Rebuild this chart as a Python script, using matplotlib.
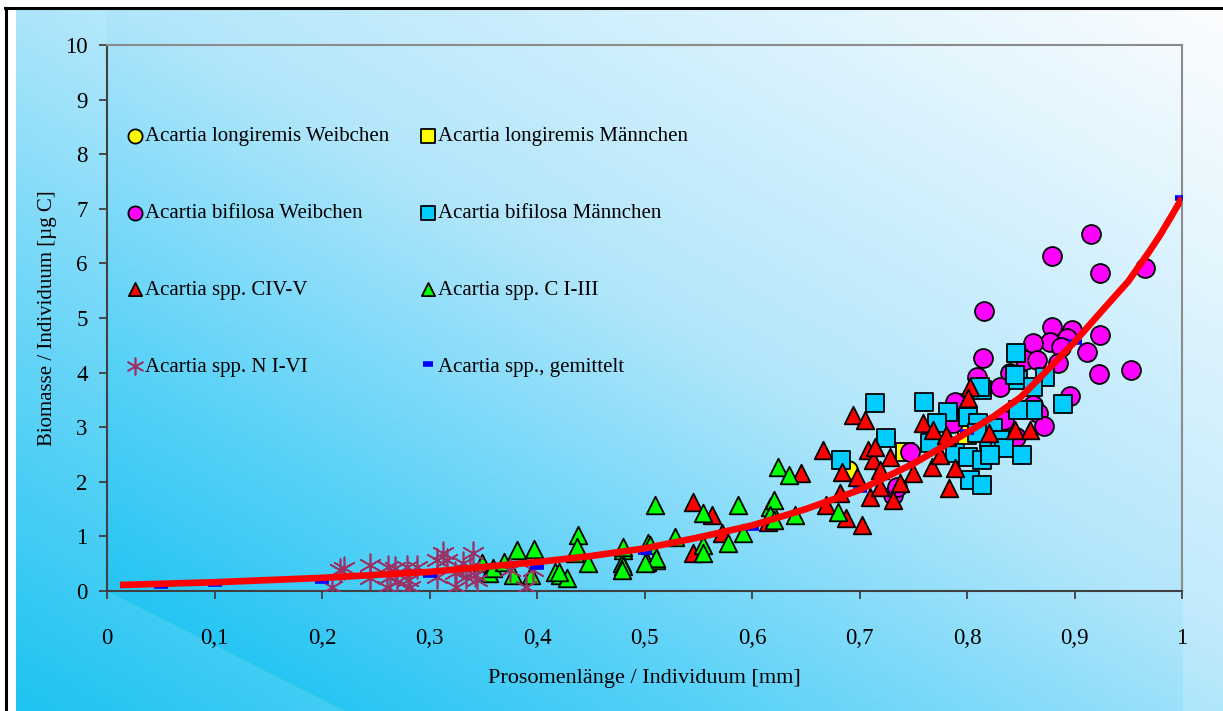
import numpy as np
import matplotlib
matplotlib.use('Agg')
from matplotlib import pyplot as plt
from matplotlib.colors import LinearSegmentedColormap
from matplotlib.patches import Polygon
from matplotlib.lines import Line2D

# data
lw_x = [0.689]
lw_y = [2.22]
lm_x = [0.742, 0.800]
lm_y = [2.55, 2.86]
bw_x = [0.915, 0.879, 0.924, 0.966, 0.816, 0.879, 0.898, 0.924, 0.877, 0.893, 0.887, 0.861,
        0.912, 0.815, 0.854, 0.865, 0.885, 0.923, 0.953, 0.809, 0.840, 0.831, 0.896, 0.861,
        0.866, 0.872, 0.793, 0.787, 0.747, 0.834, 0.846, 0.731, 0.789, 0.735]
bw_y = [6.54, 6.14, 5.82, 5.92, 5.13, 4.84, 4.78, 4.69, 4.56, 4.63, 4.47, 4.54,
        4.38, 4.27, 4.23, 4.23, 4.18, 3.97, 4.05, 3.92, 3.99, 3.74, 3.57, 3.41,
        3.26, 3.02, 3.44, 3.08, 2.55, 3.13, 2.82, 1.76, 3.46, 1.90]
bm_x = [0.714, 0.760, 0.725, 0.683, 0.782, 0.801, 0.766, 0.789, 0.801, 0.814, 0.803, 0.814,
        0.810, 0.814, 0.772, 0.846, 0.847, 0.845, 0.873, 0.861, 0.861, 0.847, 0.889, 0.824,
        0.820, 0.831, 0.809, 0.834, 0.851, 0.821, 0.812]
bm_y = [3.44, 3.46, 2.80, 2.40, 3.28, 3.19, 2.71, 2.53, 2.45, 2.40, 2.03, 1.94,
        3.08, 3.68, 3.08, 4.36, 3.86, 3.96, 3.92, 3.74, 3.31, 3.31, 3.42, 2.99,
        2.77, 2.77, 2.89, 2.62, 2.49, 2.49, 3.74]
c45_x = [0.545, 0.563, 0.572, 0.545, 0.666, 0.694, 0.705, 0.646, 0.684, 0.708, 0.713, 0.714,
         0.728, 0.719, 0.698, 0.682, 0.710, 0.719, 0.738, 0.731, 0.750, 0.759, 0.768, 0.767,
         0.775, 0.781, 0.789, 0.783, 0.803, 0.801, 0.845, 0.859, 0.615, 0.820, 0.780,
         0.687, 0.702, 0.669]
c45_y = [1.63, 1.39, 1.06, 0.70, 2.58, 3.22, 3.13, 2.16, 2.18, 2.58, 2.40, 2.64,
         2.45, 2.22, 2.09, 1.79, 1.72, 1.90, 1.98, 1.67, 2.16, 3.08, 2.95, 2.27,
         2.49, 2.82, 2.25, 1.89, 3.74, 3.53, 2.95, 2.95, 1.26, 2.90, 2.86,
         1.34, 1.20, 1.58]
c13_x = [0.349, 0.355, 0.359, 0.369, 0.381, 0.378, 0.397, 0.394, 0.417, 0.421, 0.428, 0.438,
         0.435, 0.447, 0.480, 0.479, 0.480, 0.503, 0.502, 0.511, 0.528, 0.510, 0.554, 0.587,
         0.554, 0.554, 0.578, 0.592, 0.505, 0.511, 0.500, 0.480, 0.479, 0.437, 0.420, 0.617,
         0.624, 0.634, 0.620, 0.680, 0.640, 0.617, 0.620]
c13_y = [0.51, 0.33, 0.42, 0.53, 0.75, 0.29, 0.77, 0.29, 0.35, 0.29, 0.24, 1.03,
         0.69, 0.51, 0.75, 0.51, 0.45, 0.88, 0.53, 0.57, 0.99, 1.58, 1.43, 1.58,
         0.84, 0.69, 0.88, 1.06, 0.84, 0.60, 0.51, 0.81, 0.38, 0.81, 0.35, 1.54,
         2.27, 2.12, 1.67, 1.45, 1.39, 1.39, 1.30]
n_x = [0.209, 0.217, 0.220, 0.245, 0.245, 0.261, 0.263, 0.260, 0.268, 0.270, 0.279, 0.280,
       0.288, 0.282, 0.307, 0.313, 0.316, 0.307, 0.324, 0.325, 0.331, 0.334, 0.340, 0.338,
       0.344, 0.342, 0.375, 0.390, 0.396]
n_y = [0.08, 0.38, 0.42, 0.48, 0.24, 0.44, 0.26, 0.07, 0.42, 0.16, 0.44, 0.20,
       0.44, 0.07, 0.57, 0.69, 0.57, 0.26, 0.33, 0.07, 0.51, 0.26, 0.69, 0.44,
       0.20, 0.30, 0.38, 0.07, 0.38]
mean_x = [0.05, 0.1, 0.2, 0.3, 0.4, 0.5, 0.6, 0.7, 0.8, 0.9, 1.0]
mean_y = [0.10, 0.12, 0.18, 0.29, 0.44, 0.72, 1.15, 1.85, 2.92, 4.56, 7.20]
fit_x = [0.012, 0.1, 0.2, 0.3, 0.4, 0.45, 0.5, 0.55, 0.6, 0.65, 0.7, 0.75, 0.8, 0.825,
         0.85, 0.875, 0.9, 0.925, 0.95, 0.96, 0.97, 0.98, 0.99, 1.0]
fit_y = [0.11, 0.16, 0.24, 0.35, 0.53, 0.64, 0.78, 0.98, 1.20, 1.50, 1.85, 2.33, 2.90, 3.20,
         3.55, 4.05, 4.56, 5.12, 5.67, 5.95, 6.23, 6.53, 6.86, 7.20]

x_ticks = [0, 0.1, 0.2, 0.3, 0.4, 0.5, 0.6, 0.7, 0.8, 0.9, 1.0]
x_labels = ['0', '0,1', '0,2', '0,3', '0,4', '0,5', '0,6', '0,7', '0,8', '0,9', '1']
y_ticks = list(range(0, 11))

plt.rcParams['font.family'] = ['Liberation Serif', 'DejaVu Serif']

W, H = 1223, 711
fig = plt.figure(figsize=(W / 100, H / 100), dpi=100)
fig.patch.set_facecolor('white')

# gradient panel behind everything
bg = fig.add_axes([16 / W, 0, 1 - 16 / W, 1 - 9 / H], zorder=-10)
gx, gy = np.meshgrid(np.linspace(0, 1, 300), np.linspace(0, 1, 200))
t = (gx + gy) / 2
cmap = LinearSegmentedColormap.from_list('bg', [(0.0, '#00bcef'), (0.3, '#5cd2f8'),
                                                (0.55, '#b2e6fb'), (1.0, '#fbfdff')])
bg.imshow(t, cmap=cmap, origin='lower', aspect='auto', extent=[0, 1, 0, 1], vmin=0, vmax=1)
bg.set_xlim(0, 1)
bg.set_ylim(0, 1)
bg.axis('off')

pw = W - 16
ph = H - 9
def fx(x):
    return (x - 16) / pw
def fy(y):
    return (H - y) / ph

# lighter side walls
wall = [[fx(16), fy(711)], [fx(16), fy(9)], [fx(107), fy(9)], [fx(107), fy(591)],
        [fx(345), fy(711)]]
bg.add_patch(Polygon(wall, closed=True, facecolor='white', alpha=0.12, edgecolor='none'))
bg.add_patch(Polygon([[fx(1183), fy(711)], [fx(1183), fy(9)], [1, fy(9)], [1, 0]],
                     closed=True, facecolor='white', alpha=0.18, edgecolor='none'))

ax = fig.add_axes([107 / W, 1 - 591 / H, 1075 / W, 546 / H])
ax.set_facecolor('none')

ek = dict(edgecolors='black', linewidths=1.3)
h_lw = ax.scatter(lw_x, lw_y, s=185, marker='o', c='#ffff00', zorder=3, **ek)
h_lm = ax.scatter(lm_x, lm_y, s=160, marker='s', c='#ffff00', zorder=3, **ek)
h_bw = ax.scatter(bw_x, bw_y, s=185, marker='o', c='#ff00ff', zorder=3, **ek)
h_bm = ax.scatter(bm_x, bm_y, s=160, marker='s', c='#00ccff', zorder=3, **ek)
h_c45 = ax.scatter(c45_x, c45_y, s=160, marker='^', c='#ff0000', zorder=3, **ek)
h_c13 = ax.scatter(c13_x, c13_y, s=160, marker='^', c='#00ff00', zorder=3, **ek)
h_n = ax.scatter(n_x, n_y, s=260, marker=(6, 2, 0), c='#993366', linewidths=1.2, zorder=3)
h_m, = ax.plot(mean_x, mean_y, ls='none', marker='_', color='#0000ff', ms=10, mew=4,
               zorder=4)
ax.plot(fit_x, fit_y, color='#ff0000', lw=4.8, zorder=5, solid_capstyle='butt')

ax.set_xlim(0, 1)
ax.set_ylim(0, 10)
ax.set_xticks(x_ticks)
ax.set_xticklabels(x_labels)
ax.set_yticks(y_ticks)
ax.tick_params(axis='both', direction='out', length=6, width=1.3, color='#404040',
               labelsize=16.5, labelcolor='black')
ax.tick_params(axis='x', pad=21)
ax.tick_params(axis='y', pad=8)
for s in ['left', 'bottom']:
    ax.spines[s].set_color('#404040')
    ax.spines[s].set_linewidth(1.5)
for s in ['top', 'right']:
    ax.spines[s].set_color('#8c8c8c')
    ax.spines[s].set_linewidth(1.5)

ax.set_xlabel('Prosomenlänge / Individuum [mm]', fontsize=16, labelpad=14)
ax.set_ylabel('Biomasse / Individuum [µg C]', fontsize=15, labelpad=6)

handles = [h_lw, h_bw, h_c45, h_n, h_lm, h_bm, h_c13, h_m]
labels = ['Acartia longiremis Weibchen', 'Acartia bifilosa Weibchen', 'Acartia spp. CIV-V',
          'Acartia spp. N I-VI', 'Acartia longiremis Männchen', 'Acartia bifilosa Männchen',
          'Acartia spp. C I-III', 'Acartia spp., gemittelt']
ax.legend(handles, labels, ncol=2, frameon=False, fontsize=15, markerscale=0.75,
          handlelength=0.6, handletextpad=0.15, labelspacing=2.75, columnspacing=1.6,
          loc='upper left', bbox_to_anchor=(0.003, 0.885))

# frame lines of the picture
fig.add_artist(Line2D([5 / W, 1], [1 - 7.5 / H, 1 - 7.5 / H], color='black', lw=2.2))
fig.add_artist(Line2D([5.5 / W, 5.5 / W], [0, 1 - 7.5 / H], color='black', lw=2.2))

fig.savefig('out.png', dpi=100)
